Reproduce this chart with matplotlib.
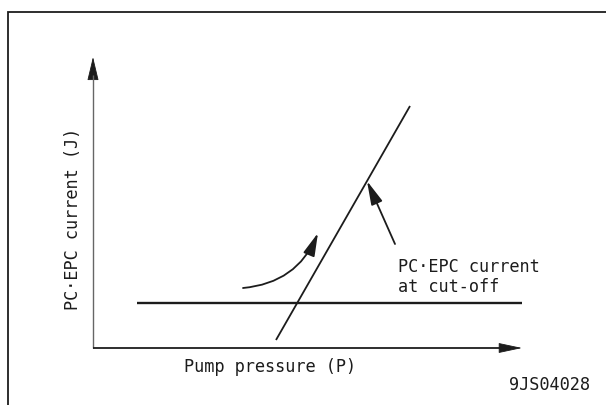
import matplotlib
matplotlib.use("Agg")
import matplotlib.pyplot as plt
from matplotlib.patches import FancyArrowPatch, Rectangle

# ---- schematic data (units: arbitrary, origin at axes corner) ----
axis_x_end = 429          # x-axis arrow tip (pump pressure)
axis_y_end = 291          # y-axis arrow tip (PC-EPC current)
cutoff_x = [44, 429]      # horizontal PC-EPC current line
cutoff_y = [45, 45]
diag_x = [183, 317]       # rising characteristic line
diag_y = [8, 242]
pointer_tail = (302, 104) # arrow pointing to cut-off point
pointer_head = (274, 167)
curve_start = (150, 60)   # curved arrow
curve_end = (225, 115)

xlabel = "Pump pressure (P)"
ylabel = "PC·EPC current (J)"
note_lines = ["PC·EPC current", "at cut-off"]
code = "9JS04028"

ink = "#1c1c1c"
font = "DejaVu Sans Mono"
fs = 12.2

fig = plt.figure(figsize=(6.06, 4.06), dpi=100)
ax = fig.add_axes([0, 0, 1, 1])
ax.set_xlim(-93, 513)
ax.set_ylim(-57, 349)
ax.axis("off")

# frame (left/top visible)
fig.patches.append(Rectangle((8 / 606, -0.1), 1.2, (406 - 13) / 406 + 0.1,
                             transform=fig.transFigure, fill=False,
                             edgecolor=ink, linewidth=1.3))

head = "-|>,head_length=1.5,head_width=0.36"
# axes arrows
ax.plot([0, 0], [0, axis_y_end - 18], color="#666666", lw=1.0, solid_capstyle="butt")
ax.plot([0, axis_x_end - 18], [0, 0], color=ink, lw=1.3, solid_capstyle="butt")
ax.add_patch(FancyArrowPatch((0, axis_y_end - 22), (0, axis_y_end),
                             arrowstyle=head, mutation_scale=10, color=ink, lw=0.6,
                             shrinkA=0, shrinkB=0))
ax.add_patch(FancyArrowPatch((axis_x_end - 22, 0), (axis_x_end, 0),
                             arrowstyle="-|>,head_length=1.5,head_width=0.32",
                             mutation_scale=10, color=ink, lw=0.6,
                             shrinkA=0, shrinkB=0))

# lines
ax.plot(cutoff_x, cutoff_y, color=ink, lw=1.7, solid_capstyle="butt")
ax.plot(diag_x, diag_y, color=ink, lw=1.3, solid_capstyle="butt")

# pointer arrow
ax.add_patch(FancyArrowPatch(pointer_tail, pointer_head,
                             arrowstyle="-|>,head_length=1.45,head_width=0.36",
                             mutation_scale=10, color=ink, lw=1.3,
                             shrinkA=0, shrinkB=0))
# curved arrow
ax.add_patch(FancyArrowPatch(curve_start, curve_end,
                             connectionstyle="arc3,rad=0.3",
                             arrowstyle="-|>,head_length=1.4,head_width=0.36",
                             mutation_scale=10, color=ink, lw=1.3,
                             shrinkA=0, shrinkB=0))

# texts
ax.text(177, -18, xlabel, ha="center", va="center", family=font, fontsize=fs, color=ink)
ax.text(-20, 130, ylabel, ha="center", va="center", rotation=90, family=font, fontsize=fs, color=ink)
ax.text(305, 82, note_lines[0], ha="left", va="center", family=font, fontsize=fs, color=ink)
ax.text(305, 62, note_lines[1], ha="left", va="center", family=font, fontsize=fs, color=ink)
ax.text(497, -36, code, ha="right", va="center", family=font, fontsize=fs, color=ink)

fig.savefig("out.png", dpi=100, facecolor="white")
